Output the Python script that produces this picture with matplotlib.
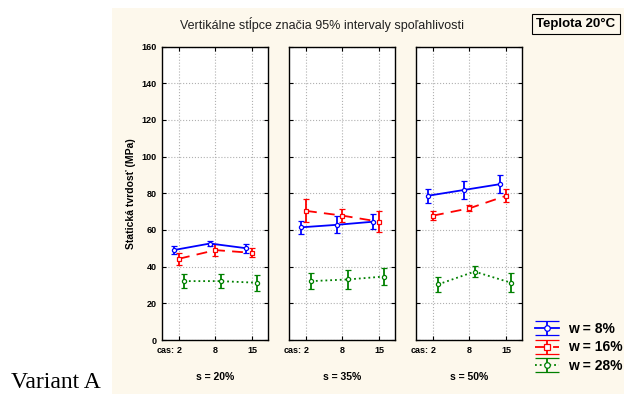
import numpy as np
import matplotlib
matplotlib.use('Agg')
import matplotlib.pyplot as plt
import matplotlib.transforms as mtransforms
from matplotlib.patches import Rectangle

plt.rcParams['font.family'] = ['Liberation Sans', 'DejaVu Sans']

# data: mean and half-width of 95% interval, per panel (s) and time (cas)
cas = ['2', '8', '15']
panels = ['s = 20%', 's = 35%', 's = 50%']
labels = ['w = 8%', 'w = 16%', 'w = 28%']

w8_mean  = [[49.0, 52.6, 50.0], [61.4, 62.8, 64.5], [78.6, 81.8, 85.0]]
w8_err   = [[2.0, 1.4, 2.6], [3.6, 4.6, 4.2], [3.7, 5.0, 5.1]]
w16_mean = [[44.3, 49.0, 47.5], [70.4, 67.8, 64.5], [67.8, 71.8, 78.6]]
w16_err  = [[3.3, 3.4, 2.5], [6.2, 3.6, 5.6], [2.5, 1.6, 3.5]]
w28_mean = [[32.1, 32.1, 31.2], [32.1, 33.0, 34.6], [30.3, 37.3, 31.2]]
w28_err  = [[3.8, 3.8, 4.3], [4.3, 5.0, 4.6], [4.3, 3.1, 5.1]]

series = [
    (w8_mean, w8_err, '#0000ff', '-', 'o', -0.15),
    (w16_mean, w16_err, '#ff0000', (0, (6, 4)), 's', 0.0),
    (w28_mean, w28_err, '#008000', ':', 'o', 0.14),
]

W, H = 624, 394
fig = plt.figure(figsize=(W / 100, H / 100), dpi=100)
fig.patches.append(Rectangle((112 / W, 0), 1 - 112 / W, (H - 8) / H,
                             transform=fig.transFigure, facecolor='#fdf8ec',
                             edgecolor='none', zorder=-10))

lefts = [162, 289, 416]
x = np.arange(len(cas))
axes = []
for p, l in enumerate(lefts):
    ax = fig.add_axes([l / W, 1 - 340 / H, 106 / W, 293.5 / H])
    ax.set_facecolor('white')
    for mean, err, col, ls, mk, off in series:
        ax.errorbar(x + off, mean[p], yerr=err[p], color=col, ls=ls, lw=1.3,
                    marker=mk, ms=3.0, mfc='white', mec=col, mew=0.9,
                    capsize=2.2, capthick=1.3, elinewidth=1.3)
    ax.set_xlim(-0.466, 2.44)
    ax.set_ylim(0, 160)
    ax.set_yticks(np.arange(0, 161, 20))
    ax.set_xticks(x)
    ax.set_xticklabels(cas, fontsize=6.5, fontweight='bold')
    ax.grid(True, color='#b0b0b0', ls=':', lw=0.8)
    ax.tick_params(direction='in', length=3, width=0.8, top=True, right=True,
                   pad=4, labelsize=6.5)
    for s in ax.spines.values():
        s.set_linewidth(1.0)
        s.set_color('black')
    if p == 0:
        for t in ax.get_yticklabels():
            t.set_fontweight('bold')
        ax.set_ylabel('Statická tvrdosť (MPa)', fontsize=7.5,
                      fontweight='bold', labelpad=4)
    else:
        ax.set_yticklabels([])
    tr = mtransforms.offset_copy(ax.get_xaxis_transform(), fig=fig,
                                 x=0, y=-4, units='points')
    ax.text(-0.13, 0, 'cas:', transform=tr,
            ha='right', va='top', fontsize=6.5, fontweight='bold')
    ax.text(0.5, -0.11, panels[p], transform=ax.transAxes, ha='center',
            va='top', fontsize=7.5, fontweight='bold')
    axes.append(ax)

fig.text(322 / W, 1 - 25 / H,
         'Vertikálne stĺpce značia 95% intervaly spoľahlivosti',
         ha='center', va='center', fontsize=9, color='#202020')
fig.text(576 / W, 1 - 24 / H, 'Teplota 20°C', ha='center', va='center',
         fontsize=9.5, fontweight='bold',
         bbox=dict(boxstyle='square,pad=0.3', facecolor='#fdf8ec',
                   edgecolor='black', linewidth=0.8))

fig.text(11 / W, 0.5 / H, 'Variant A', ha='left', va='bottom',
         fontsize=17, family='Liberation Serif')

# legend handles from a hidden axes with wide caps
dummy = fig.add_axes([0, 0, 0.01, 0.01])
dummy.set_visible(False)
handles = []
for mean, err, col, ls, mk, off in series:
    h = dummy.errorbar([0], [0], yerr=[1], color=col, ls=ls, lw=1.3,
                       marker=mk, ms=4, mfc='white', mec=col, mew=0.9,
                       capsize=8.5, capthick=1.5, elinewidth=1.3)
    handles.append(h)
leg = fig.legend(handles, labels, loc='upper left',
                 bbox_to_anchor=(535 / W, 1 - 322 / H), frameon=False,
                 handlelength=1.75, handletextpad=0.6, labelspacing=0.32,
                 borderaxespad=0.0, borderpad=0.0,
                 prop=dict(size=10, weight='bold'))

fig.savefig('out.png', dpi=100)
